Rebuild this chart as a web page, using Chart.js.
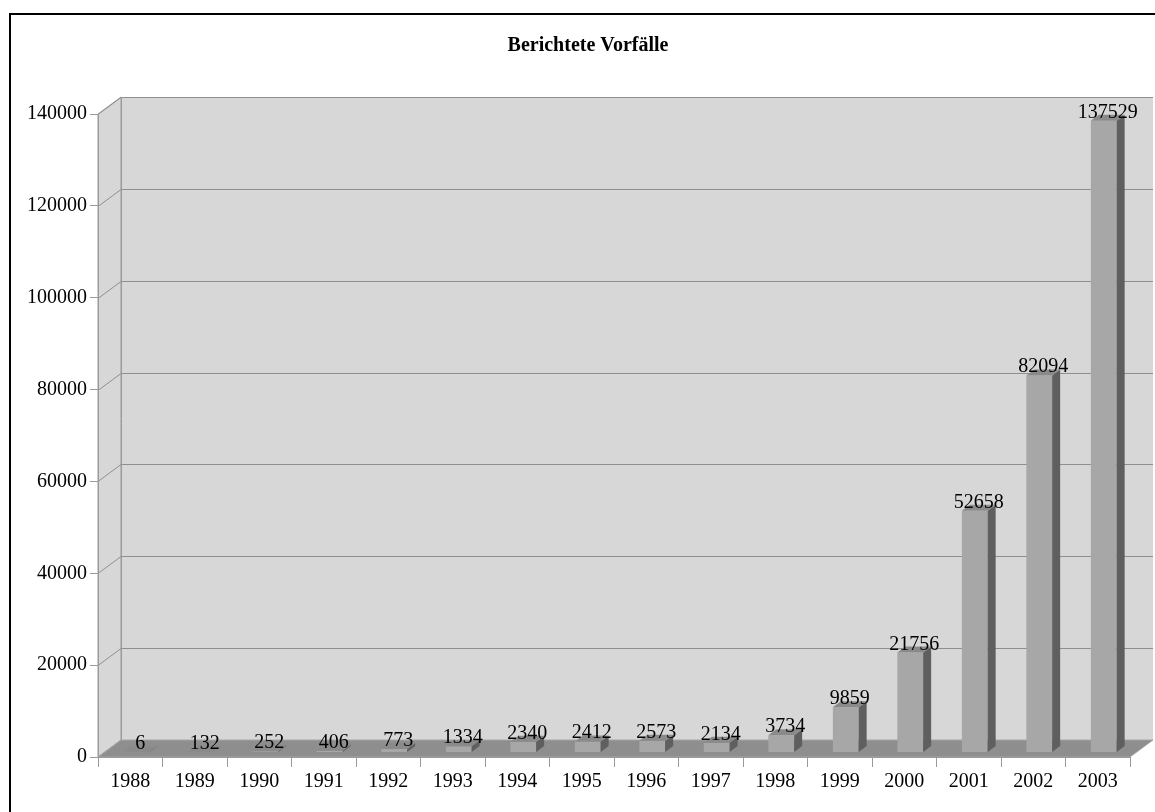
<!DOCTYPE html>
<html>
<head>
<meta charset="utf-8">
<script src="https://cdn.jsdelivr.net/npm/chart.js@4/dist/chart.umd.min.js"></script>
<style>
  html, body { margin: 0; padding: 0; background: #fff; overflow: hidden; }
  #frame { position: absolute; left: 9px; top: 13px; width: 1200px; height: 900px; border: 2px solid #000; }
  #chart { position: absolute; left: 0; top: 0; }
</style>
</head>
<body>
<div id="frame"></div>
<canvas id="chart" width="1155" height="812"></canvas>
<script>
const years = ['1988', '1989', '1990', '1991', '1992', '1993', '1994', '1995',
               '1996', '1997', '1998', '1999', '2000', '2001', '2002', '2003']
const incidents = [6, 132, 252, 406, 773, 1334, 2340, 2412,
                   2573, 2134, 3734, 9859, 21756, 52658, 82094, 137529]
const yMax = 140000
const yStep = 20000
const title = 'Berichtete Vorfälle'

// depth of the box and of the bars
const DX = 23, DY = -17
const BAR_OFF_X = 6, BAR_OFF_Y = -4.5
const BAR_DX = 8, BAR_DY = -6

const serif = '"Liberation Serif", "Times New Roman", serif'

function poly(ctx, pts, fill, stroke) {
    ctx.beginPath()
    ctx.moveTo(pts[0][0], pts[0][1])
    for (let i = 1; i < pts.length; i++) ctx.lineTo(pts[i][0], pts[i][1])
    ctx.closePath()
    if (fill) { ctx.fillStyle = fill; ctx.fill() }
    if (stroke) { ctx.strokeStyle = stroke; ctx.lineWidth = 1; ctx.stroke() }
}

const box3d = {
    id: 'box3d',
    beforeDraw(chart) {
        const { ctx, chartArea: a, scales } = chart
        const L = a.left, R = a.right, T = a.top, B = a.bottom
        ctx.save()
        // title
        ctx.fillStyle = '#000'
        ctx.font = 'bold 20px ' + serif
        ctx.textAlign = 'center'
        ctx.textBaseline = 'middle'
        ctx.fillText(title, 588, 46)
        // side wall + back wall
        poly(ctx, [[L, B], [L, T], [L + DX, T + DY], [L + DX, B + DY]], '#d7d7d7', '#9a9a9a')
        poly(ctx, [[L + DX, T + DY], [R + DX, T + DY], [R + DX, B + DY], [L + DX, B + DY]], '#d7d7d7', null)
        // grid lines
        ctx.strokeStyle = '#8f8f8f'
        ctx.lineWidth = 1
        scales.y.ticks.forEach(t => {
            const y = Math.round(scales.y.getPixelForValue(t.value)) + 0.5
            ctx.beginPath()
            ctx.moveTo(L, y)
            ctx.lineTo(L + DX, y + DY)
            ctx.lineTo(R + DX, y + DY)
            ctx.stroke()
        })
        ctx.strokeStyle = '#9a9a9a'
        ctx.beginPath()
        ctx.moveTo(L + DX + 0.5, T + DY)
        ctx.lineTo(L + DX + 0.5, B + DY)
        ctx.stroke()
        // floor
        poly(ctx, [[L, B], [R, B], [R + DX, B + DY], [L + DX, B + DY]], '#8e8e8e', '#a6a6a6')
        ctx.restore()
    },
    beforeDatasetsDraw(chart) {
        chart.ctx.save()
        chart.ctx.translate(BAR_OFF_X, BAR_OFF_Y)
    },
    afterDatasetsDraw(chart) {
        const ctx = chart.ctx
        ctx.restore()
        const meta = chart.getDatasetMeta(0)
        ctx.save()
        meta.data.forEach((bar, i) => {
            const w = bar.width
            const x0 = bar.x - w / 2 + BAR_OFF_X
            const x1 = bar.x + w / 2 + BAR_OFF_X
            const top = bar.y + BAR_OFF_Y
            const base = bar.base + BAR_OFF_Y
            poly(ctx, [[x1, top], [x1 + BAR_DX, top + BAR_DY], [x1 + BAR_DX, base + BAR_DY], [x1, base]], '#5f5f5f', null)
            poly(ctx, [[x0, top], [x1, top], [x1 + BAR_DX, top + BAR_DY], [x0 + BAR_DX, top + BAR_DY]], '#8a8a8a', null)
            ctx.fillStyle = '#000'
            ctx.font = '20px ' + serif
            ctx.textAlign = 'center'
            ctx.textBaseline = 'alphabetic'
            ctx.fillText(String(incidents[i]), bar.x + BAR_OFF_X + 4, top - 3)
        })
        ctx.restore()
    }
}

new Chart(document.getElementById('chart'), {
    type: 'bar',
    data: {
        labels: years,
        datasets: [{
            label: title,
            data: incidents,
            backgroundColor: '#a7a7a7',
            borderWidth: 0,
            categoryPercentage: 1,
            barPercentage: 0.4
        }]
    },
    options: {
        responsive: false,
        animation: false,
        layout: { padding: { left: 0, right: 25, top: 114, bottom: 0 } },
        plugins: {
            legend: { display: false },
            tooltip: { enabled: false },
            title: { display: false }
        },
        scales: {
            x: {
                grid: { offset: true, drawOnChartArea: false, tickLength: 10, color: '#9a9a9a' },
                border: { color: '#9a9a9a' },
                ticks: { color: '#000', font: { family: serif, size: 20 }, padding: 3, maxRotation: 0, autoSkip: false },
                afterFit(s) { s.height = 55 }
            },
            y: {
                min: 0,
                max: yMax,
                grid: { drawOnChartArea: false, tickLength: 8, color: '#9a9a9a' },
                border: { color: '#9a9a9a' },
                ticks: {
                    stepSize: yStep, color: '#000', font: { family: serif, size: 20 }, padding: 3,
                    callback: v => String(v)
                },
                afterFit(s) { s.width = 98 }
            }
        }
    },
    plugins: [box3d]
})
</script>
</body>
</html>
